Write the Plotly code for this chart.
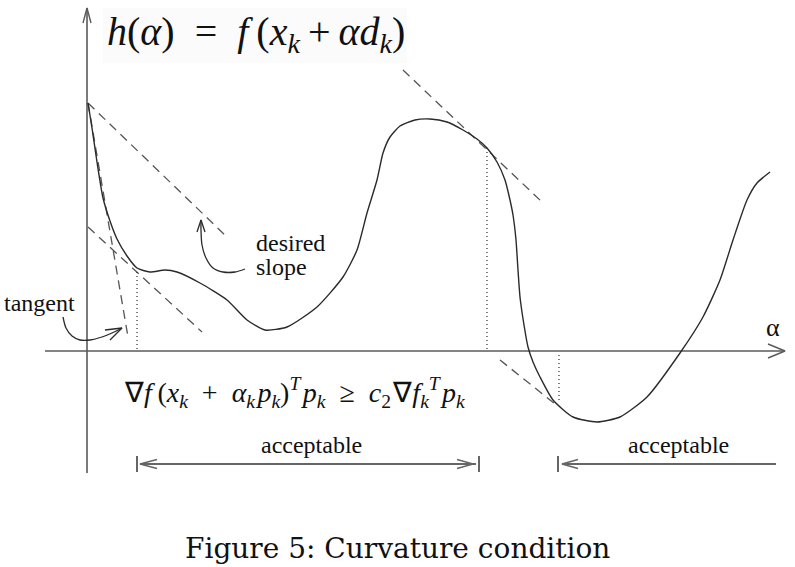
import plotly.graph_objects as go

# ---- data (alpha, h) in diagram units ----
curve_alpha = [0.00, 0.04, 0.09, 0.15, 0.22, 0.29, 0.39, 0.49, 0.62, 0.77, 0.89, 1.12, 1.39, 1.59,
               1.77, 1.99, 2.29, 2.55, 2.69, 2.79, 2.89, 2.95, 3.02, 3.12, 3.27, 3.42, 3.59, 3.75,
               3.89, 3.99, 4.09, 4.17, 4.22, 4.25, 4.28, 4.30, 4.32, 4.36, 4.40, 4.45, 4.52, 4.65,
               4.85, 5.09, 5.32, 5.59, 5.92, 6.15, 6.32, 6.45, 6.59, 6.69, 6.82]
curve_h = [2.48, 2.23, 1.89, 1.53, 1.30, 1.12, 0.95, 0.83, 0.79, 0.81, 0.79, 0.68, 0.51, 0.31,
           0.21, 0.24, 0.44, 0.74, 1.01, 1.38, 1.71, 1.98, 2.14, 2.25, 2.31, 2.32, 2.29, 2.21,
           2.12, 2.03, 1.89, 1.71, 1.51, 1.36, 1.11, 0.81, 0.54, 0.26, 0.04, -0.11, -0.26, -0.49,
           -0.66, -0.71, -0.66, -0.46, -0.02, 0.34, 0.71, 1.11, 1.51, 1.68, 1.79]

# dashed slope lines: (alpha0, h0, alpha1, h1)
dashed_lines = [
    (0.00, 2.48, 1.39, 1.14),   # desired slope from origin
    (0.00, 2.48, 0.40, 0.14),   # tangent at alpha = 0
    (0.00, 1.24, 1.14, 0.19),   # desired slope at first point
    (3.15, 2.81, 4.54, 1.49),   # desired slope near peak
    (4.12, -0.09, 4.67, -0.53), # desired slope near minimum
]
# dotted verticals: (alpha, h_top, h_bottom)
dotted_lines = [
    (0.49, 0.79, 0.0),
    (3.99, 2.03, 0.0),
    (4.71, -0.04, -0.52),
]
# acceptable intervals: (start, end)
accept_1 = (0.49, 3.91)
accept_2 = (4.70, 6.88)
accept_h = -1.13

desired_arrow_a = [1.57, 1.47, 1.35, 1.25, 1.18, 1.14, 1.13, 1.13]
desired_arrow_h = [0.82, 0.79, 0.79, 0.83, 0.93, 1.06, 1.21, 1.31]
tangent_arrow_a = [-0.25, -0.22, -0.16, -0.08, 0.02, 0.14, 0.24, 0.34]
tangent_arrow_h = [0.34, 0.23, 0.15, 0.11, 0.11, 0.14, 0.18, 0.23]

SERIF = "Liberation Serif, Times New Roman, serif"
WIDE = "DejaVu Serif, serif"
AX = "#5a5a5a"
INK = "#2a2a2a"
DASH = "#555555"

fig = go.Figure()

def line(xs, ys, color=INK, width=1.4, dash="solid", shape="linear"):
    fig.add_trace(go.Scatter(x=list(xs), y=list(ys), mode="lines",
                             line=dict(color=color, width=width, dash=dash, shape=shape),
                             hoverinfo="skip", showlegend=False))

# axes
line([-0.43, 6.97], [0, 0], AX, 1.6)
line([-0.01, -0.01], [-1.22, 3.43], AX, 1.6)
line([6.80, 6.97, 6.80], [0.07, 0, -0.07], AX, 1.4)
line([-0.05, -0.01, 0.03], [3.28, 3.43, 3.28], AX, 1.4)

# dashed slopes
for a0, h0, a1, h1 in dashed_lines:
    line([a0, a1], [h0, h1], DASH, 1.3, "9px,6px")

# dotted verticals
for a, ht, hb in dotted_lines:
    line([a, a], [ht, hb], INK, 1.2, "1px,3px")

# curve
fig.add_trace(go.Scatter(x=curve_alpha, y=curve_h, mode="lines",
                         line=dict(color=INK, width=1.4, shape="spline", smoothing=0.6),
                         hoverinfo="skip", showlegend=False))

# curved arrows
fig.add_trace(go.Scatter(x=desired_arrow_a, y=desired_arrow_h, mode="lines",
                         line=dict(color=INK, width=1.3, shape="spline", smoothing=0.8),
                         hoverinfo="skip", showlegend=False))
line([1.09, 1.13, 1.17], [1.19, 1.31, 1.19], INK, 1.3)
fig.add_trace(go.Scatter(x=tangent_arrow_a, y=tangent_arrow_h, mode="lines",
                         line=dict(color=INK, width=1.3, shape="spline", smoothing=0.8),
                         hoverinfo="skip", showlegend=False))
line([0.17, 0.34, 0.22], [0.21, 0.23, 0.11], INK, 1.3)

# acceptable arrows
AC = "#666666"
s1, e1 = accept_1
line([s1 + 0.03, e1 - 0.03], [accept_h, accept_h], AC, 2)
line([s1, s1], [accept_h + 0.08, accept_h - 0.08], AC, 2)
line([e1, e1], [accept_h + 0.08, accept_h - 0.08], AC, 2)
line([s1 + 0.20, s1 + 0.03, s1 + 0.20], [accept_h + 0.045, accept_h, accept_h - 0.045], AC, 1.6)
line([e1 - 0.22, e1 - 0.06, e1 - 0.22], [accept_h + 0.045, accept_h, accept_h - 0.045], AC, 1.6)
s2, e2 = accept_2
line([s2 + 0.04, e2], [accept_h, accept_h], AC, 2)
line([s2, s2], [accept_h + 0.08, accept_h - 0.08], AC, 2)
line([s2 + 0.20, s2 + 0.04, s2 + 0.20], [accept_h + 0.045, accept_h, accept_h - 0.045], AC, 1.6)

# title box
fig.add_shape(type="rect", x0=0.15, x1=3.19, y0=2.88, y1=3.43, xref="x", yref="y",
              fillcolor="#fbfbfb", line=dict(width=0), layer="below")

def text(a, h, s, size, xanchor="center", color="#111111", family=SERIF):
    fig.add_annotation(x=a, y=h, xref="x", yref="y", text=s, showarrow=False,
                       xanchor=xanchor, yanchor="middle",
                       font=dict(family=family, size=size, color=color))

text(1.68, 3.17, "<i>h</i>(<i>α</i>)\u2002=\u2002<i>f</i>\u2009(<i>x<sub>k</sub></i>\u2009+\u2009<i>αd<sub>k</sub></i>)", 40)
text(2.06, -0.41, "∇<i>f</i>\u2009(<i>x<sub>k</sub></i>\u2002+\u2002<i>α<sub>k</sub>\u200ap<sub>k</sub></i>)<sup><i>T</i></sup>\u200a<i>p<sub>k</sub></i>\u2002≥\u2002<i>c</i><sub>2</sub>\u200a∇<i>f</i><sub><i>k</i></sub><sup><i>T</i></sup>\u200a<i>p<sub>k</sub></i>", 28)
text(1.66, 1.08, "desired", 24, "left")
text(1.66, 0.84, "slope", 24, "left")
text(-0.49, 0.48, "tangent", 24)
text(6.85, 0.24, "α", 26)
text(2.23, -0.94, "acceptable", 24)
text(5.90, -0.94, "acceptable", 24)
text(3.09, -1.97, "Figure 5: Curvature condition", 28, family=WIDE)

fig.update_layout(
    width=795, height=567, margin=dict(l=0, r=0, t=0, b=0),
    paper_bgcolor="white", plot_bgcolor="white",
    xaxis=dict(range=[-0.88, 7.07], visible=False, fixedrange=True),
    yaxis=dict(range=[-2.16, 3.51], visible=False, fixedrange=True),
)
fig.write_html("out.html", config={"displayModeBar": False},
               post_script="document.body.style.margin='0';document.body.style.overflow='hidden';")
